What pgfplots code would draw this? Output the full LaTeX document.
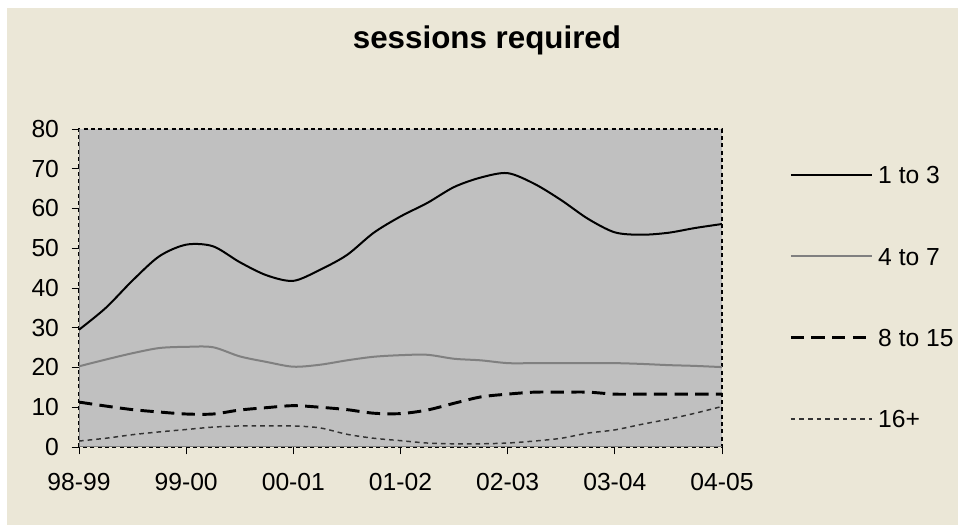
\documentclass[border=0pt]{standalone}
\usepackage{fontspec}
\setmainfont{Liberation Sans}
\usepackage{pgfplots}
\pgfplotsset{compat=1.18}

\definecolor{chartbg}{HTML}{EBE7D7}
\definecolor{plotbg}{HTML}{C0C0C0}
\definecolor{midgray}{HTML}{808080}

% quarterly readings, x = quarter index from 98-99
\pgfplotstableread{
q  a     b     c     d
0  29.5  20.3  11.3  1.5
1  35.0  22.0  10.3  2.2
2  41.9  23.6  9.4   3.1
3  48.0  24.9  8.8   3.8
4  50.9  25.2  8.3   4.4
5  50.5  25.1  8.3   5.0
6  46.5  22.8  9.3   5.3
7  43.2  21.4  9.9   5.3
8  41.8  20.2  10.4  5.3
9  44.6  20.7  10.0  4.8
10 48.3  21.8  9.4   3.2
11 53.9  22.7  8.5   2.2
12 58.0  23.1  8.4   1.6
13 61.4  23.2  9.3   1.0
14 65.4  22.2  11.0  0.8
15 67.8  21.8  12.6  0.8
16 68.9  21.1  13.3  1.0
17 66.2  21.1  13.8  1.5
18 62.1  21.1  13.8  2.2
19 57.4  21.1  13.8  3.5
20 54.0  21.1  13.3  4.3
21 53.4  20.9  13.3  5.7
22 53.9  20.6  13.3  7.0
23 55.1  20.4  13.3  8.5
24 56.1  20.1  13.3  10.2
}\sessions

\newcommand{\chartfont}{\fontsize{18.5}{20}\selectfont}
\newcommand{\titlefont}{\fontsize{23.5}{26}\selectfont}

\begin{document}
\begin{tikzpicture}
\fill[white] (0,0) rectangle (718.5pt,393.75pt);
\fill[chartbg] (5.25pt,0) rectangle (718.5pt,387.75pt);
\begin{axis}[
  at={(59.25pt,58.5pt)}, anchor=south west,
  scale only axis, width=482.25pt, height=238.5pt,
  xmin=0, xmax=24, ymin=0, ymax=80,
  xtick={0,4,...,24},
  xticklabels={98-99,99-00,00-01,01-02,02-03,03-04,04-05},
  ytick={0,10,...,80},
  tick pos=left, tick align=outside, major tick length=5.5pt,
  tick style={black, line width=0.6pt},
  axis background/.style={fill=plotbg},
  axis line style={black, line width=0.8pt, dash pattern=on 3pt off 2.5pt},
  /pgf/number format/assume math mode=true,
  ticklabel style={font=\chartfont},
  xticklabel style={yshift=-11pt},
  yticklabel style={xshift=-6pt},
  title={sessions required},
  title style={font=\bfseries\titlefont, at={(0.6345,1.2274)}, anchor=base},
  legend cell align=left,
  legend image code/.code={\draw[#1] (0pt,0pt) -- (60.75pt,0pt);},
  legend style={at={(1.0980,0.894)}, anchor=north west, draw=none, fill=none,
    font=\chartfont, row sep=47.56pt,
    nodes={inner sep=0pt, text height=13.5pt, text depth=0pt},
    /tikz/every odd column/.append style={column sep=3.75pt}},
]
\draw[midgray, line width=0.8pt] (rel axis cs:0,1) -- (rel axis cs:0,0) -- (rel axis cs:1,0);
\addplot[black, line width=1.5pt, smooth] table[x=q, y=a] {\sessions};
\addlegendentry{1 to 3}
\addplot[midgray, line width=1.5pt, smooth] table[x=q, y=b] {\sessions};
\addlegendentry{4 to 7}
\addplot[black, line width=2.2pt, dash pattern=on 10pt off 5.5pt, smooth] table[x=q, y=c] {\sessions};
\addlegendentry{8 to 15}
\addplot[black!80, line width=1.1pt, dash pattern=on 3.5pt off 3pt, smooth] table[x=q, y=d] {\sessions};
\addlegendentry{16+}
\end{axis}
\end{tikzpicture}
\end{document}
